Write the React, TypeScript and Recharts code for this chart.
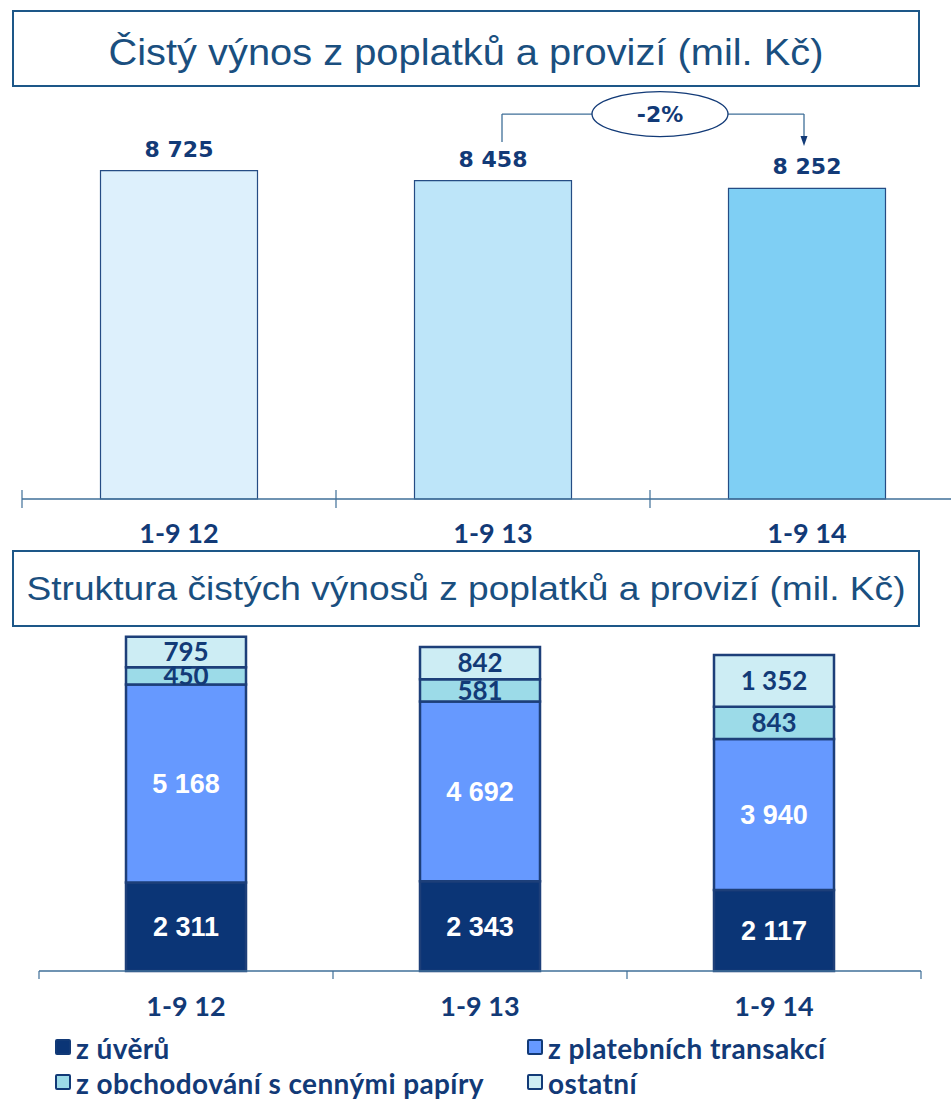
import React from 'react';
import { BarChart, Bar, XAxis, YAxis, LabelList, Cell, ReferenceLine } from 'recharts';

// ---------- data ----------
const categories = ['1-9 12', '1-9 13', '1-9 14'];
const totalValues = [8725, 8458, 8252];

const uvery = [2311, 2343, 2117];
const platebni = [5168, 4692, 3940];
const obchodovani = [450, 581, 843];
const ostatni = [795, 842, 1352];

const seriesNames = ['z úvěrů', 'z platebních transakcí', 'z obchodování s cennými papíry', 'ostatní'];
const title1 = 'Čistý výnos z poplatků a provizí (mil. Kč)';
const title2 = 'Struktura čistých výnosů z poplatků a provizí (mil. Kč)';
const changeLabel = '-2%';
const changeLineValue = 10228;
const changeFromValue = 9485;
const changeToValue = 9378;

// ---------- styles ----------
const NAVY = '#123a77';
const TITLE_COLOR = '#1a4f7f';
const BOX_COLOR = '#1d5788';
const AXIS_COLOR = '#3f6f98';
const topColors = ['#ddf0fc', '#bde5f9', '#7fcff4'];
const stackColors = ['#0b3576', '#6699ff', '#9cdbe8', '#cdedf4'];
const stackLabelColors = ['#ffffff', '#ffffff', NAVY, NAVY];
const GILL = "Lato, 'Open Sans', sans-serif";
const ARIAL = "'Liberation Sans', Arial, sans-serif";
const TAHOMA = "'DejaVu Sans', Verdana, sans-serif";

const fmt = (v: number) => String(v).replace(/\B(?=(\d{3})+(?!\d))/g, ' ');

const topData = categories.map((c, i) => ({ name: c, total: totalValues[i] }));
const stackData = categories.map((c, i) => ({
  name: c,
  uvery: uvery[i],
  platebni: platebni[i],
  obchodovani: obchodovani[i],
  ostatni: ostatni[i],
}));
const stackKeys = ['uvery', 'platebni', 'obchodovani', 'ostatni'];

const TopTick = (props: any) => {
  const { x, y, payload, width, visibleTicksCount } = props;
  const n = visibleTicksCount || categories.length;
  const half = (width || 942) / n / 2;
  return (
    <g>
      <line x1={x - half} x2={x - half} y1={y - 9} y2={y + 9} stroke={AXIS_COLOR} strokeWidth={1.2} />
      <text x={x} y={y + 44} textAnchor="middle" fill={NAVY} fontFamily={GILL} fontWeight={700} fontSize={27}>
        {payload.value}
      </text>
    </g>
  );
};

const BottomTick = (props: any) => {
  const { x, y, payload, width, visibleTicksCount, index } = props;
  const n = visibleTicksCount || categories.length;
  const half = (width || 884) / n / 2;
  return (
    <g>
      <line x1={x - half} x2={x - half} y1={y} y2={y + 8} stroke={AXIS_COLOR} strokeWidth={1.2} />
      {index === n - 1 && (
        <line x1={x + half} x2={x + half} y1={y} y2={y + 8} stroke={AXIS_COLOR} strokeWidth={1.2} />
      )}
      <text x={x} y={y + 45} textAnchor="middle" fill={NAVY} fontFamily={GILL} fontWeight={700} fontSize={27}>
        {payload.value}
      </text>
    </g>
  );
};

const HLineWithEllipse = (props: any) => {
  const { x1, x2, y1 } = props;
  const cx = (x1 + x2) / 2 + 10;
  const lx = x1 + 9;
  const rx = x2 - 3;
  return (
    <g>
      <line x1={lx} x2={rx} y1={y1} y2={y1} stroke={AXIS_COLOR} strokeWidth={1.3} />
      <ellipse cx={cx} cy={y1} rx={68} ry={22.5} fill="#ffffff" stroke={NAVY} strokeWidth={1.3} />
      <text x={cx} y={y1 + 8} textAnchor="middle" fill={NAVY} fontFamily={TAHOMA} fontWeight={700} fontSize={22}>
        {changeLabel}
      </text>
    </g>
  );
};

const LeftLeg = (props: any) => {
  const { x1, y1, y2 } = props;
  const x = x1 + 9;
  return <line x1={x} x2={x} y1={y1} y2={y2} stroke={AXIS_COLOR} strokeWidth={1.3} />;
};

const RightLeg = (props: any) => {
  const { x1, y1, y2 } = props;
  const x = x1 - 3;
  return (
    <g>
      <line x1={x} x2={x} y1={y1} y2={y2 - 8} stroke={AXIS_COLOR} strokeWidth={1.3} />
      <polygon points={`${x - 3.5},${y2 - 10} ${x + 3.5},${y2 - 10} ${x},${y2}`} fill={NAVY} />
    </g>
  );
};

const TitleBox = ({ top, text, fontSize, textLength, baseline }: any) => (
  <svg
    style={{ position: 'absolute', left: 0, top: 0 }}
    width={951}
    height={top + 90}
  >
    <rect x={13} y={top + 1} width={906} height={75} fill="#ffffff" stroke={BOX_COLOR} strokeWidth={2} />
    <text
      x={466}
      y={top + baseline}
      textAnchor="middle"
      fill={TITLE_COLOR}
      fontFamily={ARIAL}
      fontSize={fontSize}
      textLength={textLength}
      lengthAdjust="spacingAndGlyphs"
    >
      {text}
    </text>
  </svg>
);

export default function App() {
  return (
    <div style={{ position: 'absolute', left: 0, top: 0, width: 951, height: 1104, background: '#ffffff', overflow: 'hidden' }}>
      <TitleBox top={10} text={title1} fontSize={37} textLength={715} baseline={54.5} />

      <div style={{ position: 'absolute', left: 0, top: 0, width: 951, height: 550, overflow: 'hidden' }}>
        <BarChart width={990} height={550} data={topData} margin={{ top: 85, right: 26, bottom: 6, left: 22 }} barCategoryGap="25%">
          <YAxis hide domain={[0, 11000]} />
          <XAxis
            dataKey="name"
            height={45}
            axisLine={{ stroke: AXIS_COLOR, strokeWidth: 1.5 }}
            tickLine={false}
            tickSize={0}
            tickMargin={0}
            interval={0}
            tick={<TopTick />}
          />
          <Bar dataKey="total" isAnimationActive={false} stroke="#254c84" strokeWidth={1.2}>
            {topData.map((d, i) => (
              <Cell key={d.name} fill={topColors[i]} />
            ))}
            <LabelList
              dataKey="total"
              position="top"
              offset={14}
              formatter={(v: any) => fmt(Number(v))}
              fill={NAVY}
              fontFamily={TAHOMA}
              fontWeight={700}
              fontSize={22}
            />
          </Bar>
          <ReferenceLine
            ifOverflow="visible"
            segment={[{ x: categories[1], y: changeLineValue }, { x: categories[1], y: changeFromValue }]}
            shape={<LeftLeg />}
          />
          <ReferenceLine
            ifOverflow="visible"
            segment={[{ x: categories[2], y: changeLineValue }, { x: categories[2], y: changeToValue }]}
            shape={<RightLeg />}
          />
          <ReferenceLine
            ifOverflow="visible"
            segment={[{ x: categories[1], y: changeLineValue }, { x: categories[2], y: changeLineValue }]}
            shape={<HLineWithEllipse />}
          />
        </BarChart>
      </div>

      <TitleBox top={550} text={title2} fontSize={34} textLength={879} baseline={50} />

      <div style={{ position: 'absolute', left: 0, top: 560, width: 951, height: 480 }}>
        <BarChart width={951} height={480} data={stackData} margin={{ top: 28, right: 30, bottom: 24, left: 39 }} barSize={120}>
          <YAxis hide domain={[0, 10000]} />
          <XAxis
            dataKey="name"
            height={45}
            axisLine={{ stroke: AXIS_COLOR, strokeWidth: 1.5 }}
            tickLine={false}
            tickSize={0}
            tickMargin={0}
            interval={0}
            tick={<BottomTick />}
          />
          {stackKeys.map((k, si) => (
            <Bar key={k} dataKey={k} name={seriesNames[si]} stackId="a" fill={stackColors[si]} stroke="#1d3f79" strokeWidth={2.5} isAnimationActive={false}>
              <LabelList
                dataKey={k}
                position="center"
                formatter={(v: any) => fmt(Number(v))}
                fill={stackLabelColors[si]}
                fontFamily={si < 2 ? ARIAL : GILL}
                fontWeight={700}
                fontSize={si < 2 ? 27 : 26}
              />
            </Bar>
          ))}
        </BarChart>
      </div>

      {seriesNames.map((n, i) => {
        const col = i % 2;
        const row = Math.floor(i / 2);
        const left = col === 0 ? 55 : 527;
        const top = row === 0 ? 1039 : 1074;
        return (
          <div key={n} style={{ position: 'absolute', left, top, height: 16, display: 'flex', alignItems: 'center', whiteSpace: 'nowrap' }}>
            <div style={{ width: 12, height: 12, background: stackColors[i], border: `2px solid ${NAVY}`, borderRadius: 2 }} />
            <span style={{ marginLeft: 5, fontFamily: GILL, fontWeight: 700, fontSize: 28, letterSpacing: 0.4, color: NAVY, lineHeight: '16px', position: 'relative', top: 1 }}>
              {n}
            </span>
          </div>
        );
      })}
    </div>
  );
}
